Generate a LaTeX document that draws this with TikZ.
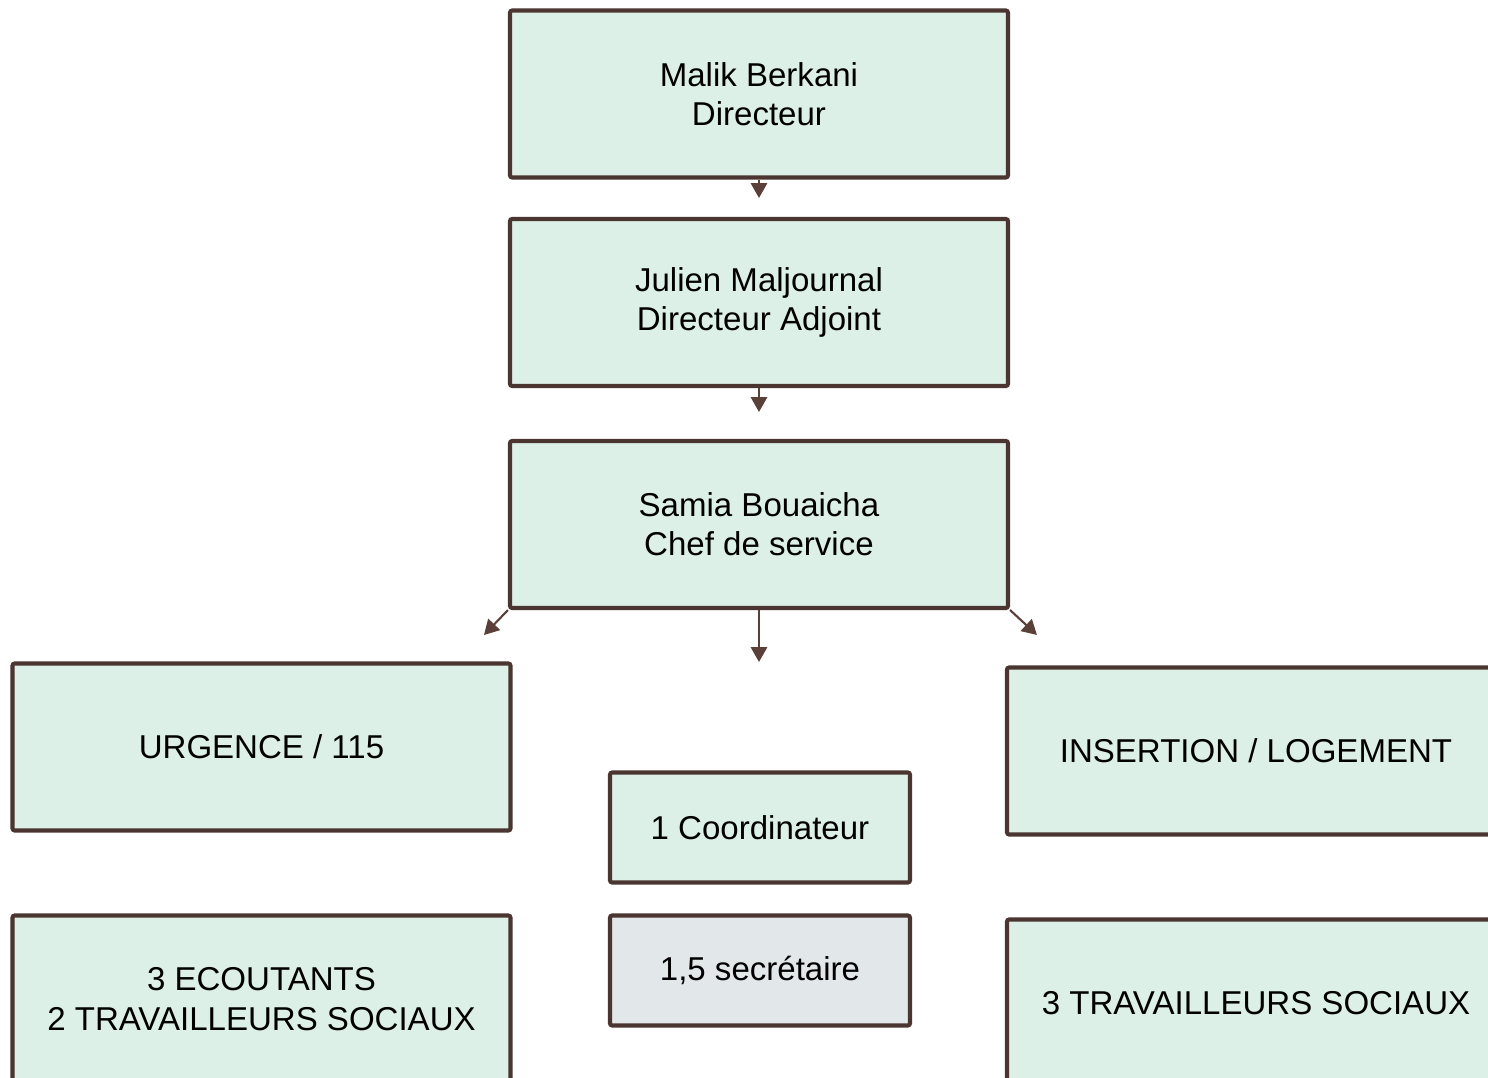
\documentclass[tikz,border=0pt]{standalone}
\usepackage{fontspec}
\setmainfont{Liberation Sans}
\usetikzlibrary{arrows.meta}
\definecolor{boxgreen}{HTML}{DDF0E7}
\definecolor{boxgrey}{HTML}{E2E7EA}
\definecolor{edgebrown}{HTML}{4A3530}
\definecolor{arrowbrown}{HTML}{5A4038}
\begin{document}
\begin{tikzpicture}[
    box/.style={draw=edgebrown, fill=boxgreen, line width=1.15pt, rounded corners=0.6pt, align=center,
        minimum width=4.98cm, minimum height=1.67cm, font=\fontsize{9.4}{11.2}\selectfont},
    smallbox/.style={box, minimum width=3cm, minimum height=1.1cm},
    link/.style={draw=arrowbrown, line width=0.6pt, -{Triangle[width=4.6pt,length=4.2pt]}}]
    \clip (0,0) rectangle (14.88,-10.78);
    \node[box] (dir) at (7.59,-0.94) {Malik Berkani\\Directeur};
    \node[box] (adj) at (7.59,-3.025) {Julien Maljournal\\Directeur Adjoint};
    \node[box] (chef) at (7.59,-5.245) {Samia Bouaicha\\Chef de service};
    \node[box] (urg) at (2.615,-7.47) {URGENCE / 115};
    \node[box] (ins) at (12.56,-7.51) {INSERTION / LOGEMENT};
    \node[smallbox] (coord) at (7.60,-8.275) {1 Coordinateur};
    \node[smallbox, fill=boxgrey] (sec) at (7.60,-9.705) {1,5 secrétaire};
    \node[box] (ecout) at (2.615,-9.99) {3 ECOUTANTS\\2 TRAVAILLEURS SOCIAUX};
    \node[box] (trav) at (12.56,-10.03) {3 TRAVAILLEURS SOCIAUX};
    \coordinate (tipadj) at (7.59,-1.98);
    \coordinate (tipchef) at (7.59,-4.12);
    \coordinate (tipmid) at (7.59,-6.62);
    \coordinate (tipleft) at (4.84,-6.35);
    \coordinate (tipright) at (10.37,-6.35);
    \draw[link] (dir.south) -- (tipadj);
    \draw[link] (adj.south) -- (tipchef);
    \draw[link] (chef.south) -- (tipmid);
    \draw[link] (chef.south west) -- (tipleft);
    \draw[link] (chef.south east) -- (tipright);
\end{tikzpicture}
\end{document}
